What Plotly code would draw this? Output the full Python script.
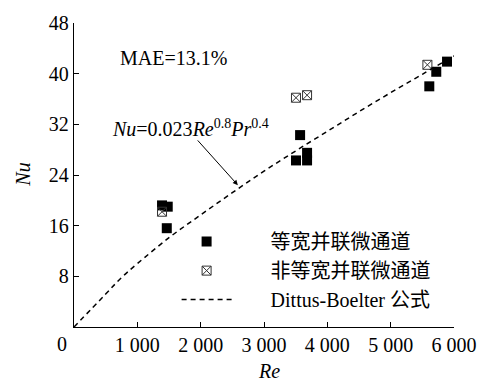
import plotly.graph_objects as go

# Data
re_equal = [1390, 1480, 1465, 3570, 3505, 3680, 3680, 5610, 5720, 5890]
nu_equal = [19.2, 19.0, 15.6, 30.3, 26.3, 27.5, 26.3, 38.0, 40.3, 41.9]

re_unequal = [1390, 3505, 3680, 5580]
nu_unequal = [18.2, 36.2, 36.6, 41.4]

re_db = [0, 500, 750, 1000, 1500, 2000, 2500, 3000, 3500, 4000, 4500, 5000, 5500, 6000]
nu_db = [0, 5.2, 7.8, 10.0, 14.1, 17.7, 21.2, 24.6, 27.8, 30.9, 34.0, 37.0, 39.9, 42.8]

x_ticks = [1000, 2000, 3000, 4000, 5000, 6000]
x_ticktext = ["1 000", "2 000", "3 000", "4 000", "5 000", "6 000"]
y_ticks = [8, 16, 24, 32, 40, 48]

FONT = "Liberation Serif, Noto Sans CJK SC, serif"
SP = "\u2003\u2002\u2009"

fig = go.Figure()
fig.add_trace(go.Scatter(
    x=re_equal, y=nu_equal, mode="markers", name=SP + "等宽并联微通道",
    marker=dict(symbol="square", size=10, color="black", line=dict(width=0)),
))
fig.add_trace(go.Scatter(
    x=re_unequal, y=nu_unequal, mode="markers", name=SP + "非等宽并联微通道",
    marker=dict(symbol="square-x-open", size=9, color="#333333", line=dict(width=1)),
))
fig.add_trace(go.Scatter(
    x=re_db, y=nu_db, mode="lines", name=SP + "Dittus-Boelter 公式",
    line=dict(color="black", width=1.5, dash="5px,4px", shape="spline"),
))

fig.update_layout(
    width=489, height=381,
    margin=dict(l=74, r=29, t=16, b=54),
    paper_bgcolor="white", plot_bgcolor="white",
    font=dict(family=FONT, size=20, color="black"),
    showlegend=True,
    legend=dict(x=0.270, y=0.345, xanchor="left", yanchor="top",
                bgcolor="rgba(0,0,0,0)", font=dict(size=20, family=FONT),
                itemwidth=50, tracegroupgap=0),
    xaxis=dict(range=[0, 6000], tickvals=x_ticks, ticktext=x_ticktext,
               showgrid=False, zeroline=False, showline=True, linecolor="black",
               linewidth=1.3, ticks="inside", ticklen=5, tickcolor="black",
               tickfont=dict(size=20, family=FONT)),
    yaxis=dict(range=[0, 48], tickvals=y_ticks, showgrid=False, zeroline=False,
               showline=True, linecolor="black", linewidth=1.3, ticks="inside",
               ticklen=5, tickcolor="black", tickfont=dict(size=20, family=FONT)),
    annotations=[
        dict(text="0", xref="paper", yref="paper", x=-0.031, y=-0.055,
             showarrow=False, xanchor="center", yanchor="middle",
             font=dict(size=20, family=FONT)),
        dict(text="<i>Re</i>", xref="paper", yref="paper", x=0.513, y=-0.145,
             showarrow=False, xanchor="center", yanchor="middle",
             font=dict(size=20, family=FONT)),
        dict(text="<i>Nu</i>", xref="paper", yref="paper", x=-0.135, y=0.5,
             textangle=-90, showarrow=False, xanchor="center", yanchor="middle",
             font=dict(size=20, family=FONT)),
        dict(text="MAE=13.1%", xref="x", yref="y", x=1574, y=42.5,
             showarrow=False, xanchor="center", yanchor="middle",
             font=dict(size=20, family=FONT)),
        dict(text="<i>Nu</i>=0.023<i>Re</i><sup>0.8</sup><i>Pr</i><sup>0.4</sup>",
             xref="x", yref="y", x=1835, y=31.5, showarrow=False,
             xanchor="center", yanchor="middle", font=dict(size=20, family=FONT)),
        dict(text="", xref="x", yref="y", x=2587, y=22.4, ax=1932, ay=29.7,
             axref="x", ayref="y", showarrow=True, arrowhead=2, arrowsize=1,
             arrowwidth=1, arrowcolor="black"),
    ],
)

fig.write_html("out.html")
